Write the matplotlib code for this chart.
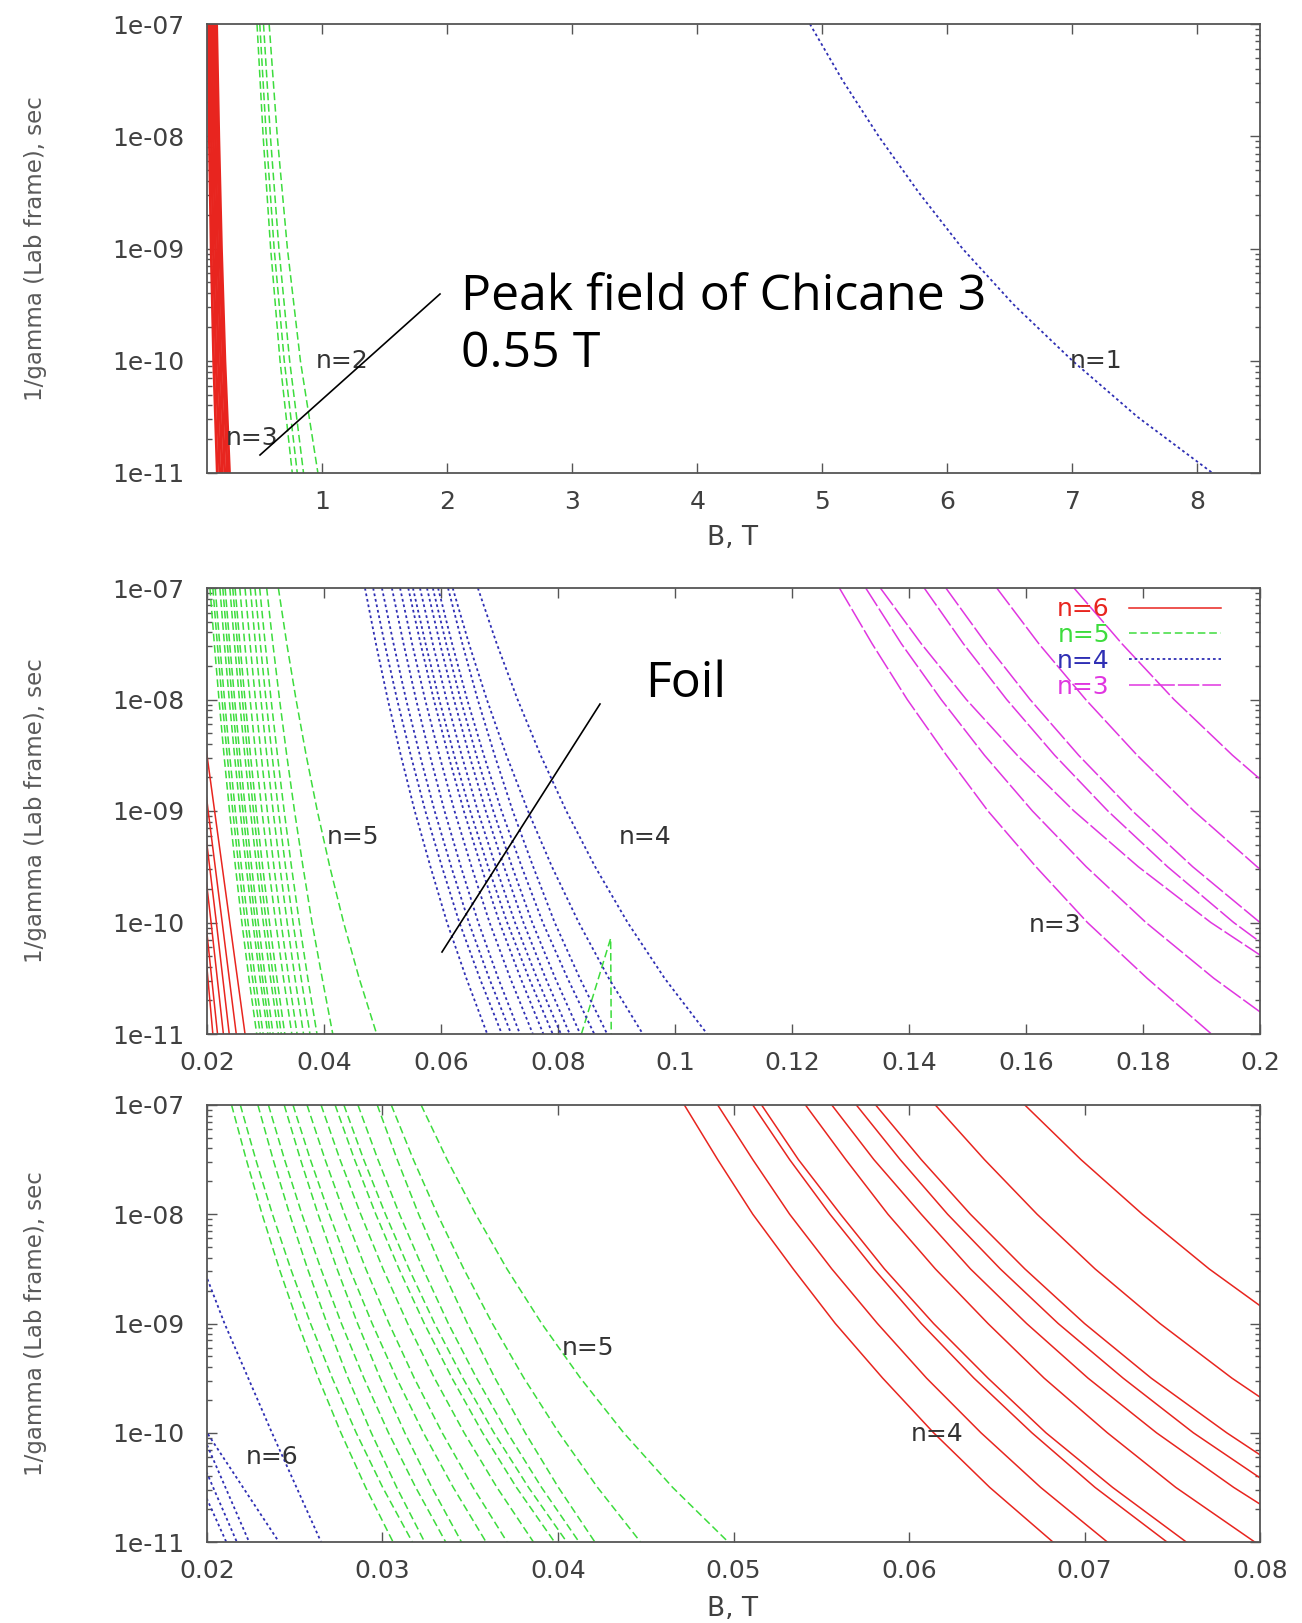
import matplotlib
matplotlib.use("Agg")
import matplotlib.pyplot as plt
from matplotlib.lines import Line2D
from matplotlib.ticker import LogLocator, NullFormatter

# Lifetime levels (sec) at which the field B (T) of each curve is listed
TAU5 = [1e-7, 1e-8, 1e-9, 1e-10, 1e-11]
TAU9 = [1e-7, 3.162e-8, 1e-8, 3.162e-9, 1e-9, 3.162e-10, 1e-10, 3.162e-11, 1e-11]
TAU_TICKS = [1e-11, 1e-10, 1e-9, 1e-8, 1e-7]
TAU_TICK_LABELS = ["1e-11", "1e-10", "1e-09", "1e-08", "1e-07"]

TOP_TICKS = [1, 2, 3, 4, 5, 6, 7, 8]
TOP_TICK_LABELS = ["1", "2", "3", "4", "5", "6", "7", "8"]
MID_TICKS = [0.02, 0.04, 0.06, 0.08, 0.10, 0.12, 0.14, 0.16, 0.18, 0.20]
MID_TICK_LABELS = ["0.02", "0.04", "0.06", "0.08", "0.1", "0.12", "0.14", "0.16", "0.18", "0.2"]
BOT_TICKS = [0.02, 0.03, 0.04, 0.05, 0.06, 0.07, 0.08]
BOT_TICK_LABELS = ["0.02", "0.03", "0.04", "0.05", "0.06", "0.07", "0.08"]

# ---- upper plot: n = 3, 2 (on TAU5) and n = 1 (on TAU9)
TOP_N3 = [
    [0.085, 0.0963, 0.1110, 0.1311, 0.160],
    [0.100, 0.1125, 0.1286, 0.1500, 0.180],
    [0.115, 0.1287, 0.1460, 0.1688, 0.200],
    [0.130, 0.1448, 0.1634, 0.1875, 0.220],
    [0.145, 0.1609, 0.1808, 0.2062, 0.240],
    [0.155, 0.1722, 0.1937, 0.2213, 0.258],
]
TOP_N2 = [
    [0.478, 0.527, 0.587, 0.662, 0.760],
    [0.500, 0.552, 0.615, 0.696, 0.800],
    [0.530, 0.585, 0.653, 0.739, 0.850],
    [0.575, 0.640, 0.721, 0.825, 0.965],
]
TOP_N1 = [
    [4.90, 5.16, 5.45, 5.77, 6.12, 6.53, 7.00, 7.52, 8.12],
]

# ---- middle plot: n = 6 (TAU5), n = 5, 4, 3 (TAU9)
MID_N6 = [
    [0.0161, 0.0187, 0.0213, 0.0239, 0.0265],
    [0.0155, 0.0179, 0.0202, 0.0226, 0.0250],
    [0.0149, 0.0171, 0.0193, 0.0216, 0.0238],
    [0.0142, 0.0163, 0.0185, 0.0207, 0.0228],
    [0.0138, 0.0158, 0.0178, 0.0198, 0.0218],
    [0.0143, 0.0160, 0.0177, 0.0193, 0.0210],
]
MID_N5 = [
    [0.0205, 0.02125, 0.02205, 0.02291, 0.02385, 0.02486, 0.02596, 0.02717, 0.0285],
    [0.0210, 0.02176, 0.02257, 0.02345, 0.02440, 0.02543, 0.02654, 0.02777, 0.0291],
    [0.0214, 0.02217, 0.02299, 0.02388, 0.02484, 0.02588, 0.02701, 0.02824, 0.0296],
    [0.0222, 0.02297, 0.02380, 0.02470, 0.02566, 0.02670, 0.02783, 0.02905, 0.0304],
    [0.0227, 0.02347, 0.02430, 0.02519, 0.02614, 0.02717, 0.02828, 0.02949, 0.0308],
    [0.0231, 0.02388, 0.02472, 0.02562, 0.02658, 0.02762, 0.02875, 0.02997, 0.0313],
    [0.0239, 0.02470, 0.02554, 0.02646, 0.02743, 0.02849, 0.02962, 0.03085, 0.0322],
    [0.0244, 0.02520, 0.02605, 0.02697, 0.02795, 0.02900, 0.03013, 0.03136, 0.0327],
    [0.0248, 0.02562, 0.02649, 0.02743, 0.02843, 0.02951, 0.03068, 0.03194, 0.0333],
    [0.0256, 0.02645, 0.02737, 0.02834, 0.02939, 0.03053, 0.03175, 0.03307, 0.0345],
    [0.0265, 0.02736, 0.02828, 0.02926, 0.03031, 0.03144, 0.03266, 0.03398, 0.0354],
    [0.0274, 0.02828, 0.02922, 0.03022, 0.03130, 0.03246, 0.03370, 0.03504, 0.0365],
    [0.0282, 0.02911, 0.03008, 0.03112, 0.03223, 0.03342, 0.03471, 0.03609, 0.0376],
    [0.0290, 0.02995, 0.03095, 0.03204, 0.03319, 0.03444, 0.03578, 0.03723, 0.0388],
    [0.0302, 0.03126, 0.03240, 0.03363, 0.03496, 0.03641, 0.03795, 0.03969, 0.0415],
    [0.0322, 0.03364, 0.03522, 0.03695, 0.03886, 0.04099, 0.04335, 0.04601, 0.0490],
]
MID_N5_KINK_B = [0.0840, 0.0890, 0.0891]
MID_N5_KINK_TAU = [1e-11, 7.2e-11, 1e-11]
MID_N4 = [
    [0.0470, 0.04888, 0.05090, 0.05313, 0.05551, 0.05820, 0.06103, 0.06433, 0.0679],
    [0.0484, 0.05037, 0.05249, 0.05483, 0.05732, 0.06016, 0.06314, 0.06663, 0.0704],
    [0.0499, 0.05189, 0.05403, 0.05639, 0.05891, 0.06175, 0.06477, 0.06823, 0.0720],
    [0.0516, 0.05360, 0.05573, 0.05809, 0.06060, 0.06340, 0.06637, 0.06978, 0.0735],
    [0.0530, 0.05506, 0.05728, 0.05971, 0.06231, 0.06522, 0.06830, 0.07184, 0.0757],
    [0.0544, 0.05651, 0.05876, 0.06125, 0.06390, 0.06686, 0.07001, 0.07361, 0.0775],
    [0.0552, 0.05737, 0.05969, 0.06225, 0.06499, 0.06805, 0.07131, 0.07504, 0.0791],
    [0.0564, 0.05859, 0.06095, 0.06353, 0.06629, 0.06937, 0.07265, 0.07641, 0.0805],
    [0.0576, 0.05983, 0.06221, 0.06484, 0.06765, 0.07077, 0.07409, 0.07789, 0.0820],
    [0.0586, 0.06089, 0.06335, 0.06605, 0.06894, 0.07216, 0.07559, 0.07953, 0.0838],
    [0.0595, 0.06190, 0.06447, 0.06732, 0.07035, 0.07379, 0.07740, 0.08163, 0.0862],
    [0.0612, 0.06365, 0.06627, 0.06917, 0.07226, 0.07576, 0.07943, 0.08373, 0.0884],
    [0.0620, 0.06478, 0.06783, 0.07118, 0.07487, 0.07897, 0.08354, 0.08868, 0.0945],
    [0.0663, 0.06953, 0.07309, 0.07703, 0.08142, 0.08635, 0.09190, 0.09822, 0.1055],
]
MID_N3 = [
    [0.1281, 0.1337, 0.1397, 0.1464, 0.1535, 0.1617, 0.1705, 0.1807, 0.1917],
    [0.1326, 0.1387, 0.1455, 0.1529, 0.1611, 0.1703, 0.1805, 0.1921, 0.2052],
    [0.1351, 0.1421, 0.1498, 0.1585, 0.1682, 0.1792, 0.1916, 0.2060, 0.2227],
    [0.1426, 0.1493, 0.1567, 0.1649, 0.1740, 0.1842, 0.1955, 0.2084, 0.2232],
    [0.1463, 0.1532, 0.1607, 0.1690, 0.1782, 0.1885, 0.2000, 0.2131, 0.2280],
    [0.1550, 0.1622, 0.1702, 0.1790, 0.1887, 0.1995, 0.2117, 0.2254, 0.2411],
    [0.1682, 0.1764, 0.1853, 0.1953, 0.2063, 0.2187, 0.2327, 0.2485, 0.2667],
]

# ---- lower plot: n = 6 (TAU5), n = 5, 4 (TAU9)
BOT_N6 = [
    [0.0165, 0.0186, 0.0210, 0.0237, 0.0265],
    [0.0120, 0.0145, 0.0172, 0.0200, 0.0241],
    [0.0110, 0.0137, 0.0165, 0.0197, 0.0224],
    [0.0105, 0.0130, 0.0158, 0.0190, 0.0217],
    [0.0100, 0.0125, 0.0150, 0.0183, 0.0211],
]
BOT_N5 = [
    [0.0214, 0.02224, 0.02314, 0.02412, 0.02519, 0.02635, 0.02763, 0.02904, 0.0306],
    [0.0219, 0.02278, 0.02373, 0.02477, 0.02590, 0.02714, 0.02850, 0.03001, 0.0317],
    [0.0229, 0.02377, 0.02471, 0.02573, 0.02684, 0.02804, 0.02936, 0.03081, 0.0324],
    [0.0235, 0.02442, 0.02541, 0.02649, 0.02766, 0.02894, 0.03034, 0.03189, 0.0336],
    [0.0244, 0.02533, 0.02633, 0.02741, 0.02858, 0.02987, 0.03127, 0.03281, 0.0345],
    [0.0249, 0.02589, 0.02697, 0.02813, 0.02941, 0.03080, 0.03233, 0.03403, 0.0359],
    [0.0257, 0.02673, 0.02784, 0.02905, 0.03037, 0.03181, 0.03340, 0.03516, 0.0371],
    [0.0265, 0.02758, 0.02876, 0.03003, 0.03143, 0.03296, 0.03465, 0.03652, 0.0386],
    [0.0273, 0.02841, 0.02962, 0.03094, 0.03238, 0.03396, 0.03570, 0.03763, 0.0398],
    [0.0278, 0.02893, 0.03017, 0.03151, 0.03297, 0.03458, 0.03635, 0.03832, 0.0405],
    [0.0286, 0.02974, 0.03097, 0.03231, 0.03375, 0.03536, 0.03712, 0.03906, 0.0412],
    [0.0297, 0.03084, 0.03206, 0.03339, 0.03484, 0.03641, 0.03813, 0.04002, 0.0421],
    [0.0305, 0.03176, 0.03313, 0.03463, 0.03626, 0.03806, 0.04005, 0.04225, 0.0447],
    [0.0322, 0.03368, 0.03531, 0.03709, 0.03907, 0.04128, 0.04374, 0.04653, 0.0497],
]
BOT_N4 = [
    [0.0472, 0.0491, 0.0511, 0.0534, 0.0558, 0.0585, 0.0614, 0.0646, 0.0682],
    [0.0491, 0.0511, 0.0532, 0.0556, 0.0582, 0.0610, 0.0641, 0.0675, 0.0713],
    [0.0511, 0.0532, 0.0555, 0.0580, 0.0607, 0.0637, 0.0670, 0.0706, 0.0747],
    [0.0516, 0.0537, 0.0561, 0.0586, 0.0614, 0.0645, 0.0678, 0.0716, 0.0758],
    [0.0541, 0.0564, 0.0588, 0.0615, 0.0645, 0.0677, 0.0713, 0.0752, 0.0797],
    [0.0556, 0.0580, 0.0607, 0.0635, 0.0667, 0.0702, 0.0741, 0.0785, 0.0834],
    [0.0570, 0.0595, 0.0622, 0.0652, 0.0685, 0.0722, 0.0762, 0.0808, 0.0859],
    [0.0581, 0.0607, 0.0635, 0.0666, 0.0700, 0.0738, 0.0781, 0.0828, 0.0882],
    [0.0615, 0.0643, 0.0673, 0.0706, 0.0743, 0.0784, 0.0830, 0.0881, 0.0939],
    [0.0666, 0.0698, 0.0733, 0.0771, 0.0814, 0.0862, 0.0916, 0.0978, 0.1047],
]

RED = "#e8251f"
GREEN = "#3ddc3d"
BLUE = "#2f2fb4"
MAGENTA = "#e036e0"
SOLID = "-"
DASHED = (0, (5, 2.5))
DOTTED = (0, (1.5, 1.6))
LONGDASH = (0, (14, 2))

TEXT_GRAY = "#404040"
FRAME_GRAY = "#555555"
GP_FONT = "DejaVu Sans"

W, H = 1302, 1623


def box(left, top, right, bottom):
    return [left / W, 1 - bottom / H, (right - left) / W, (bottom - top) / H]


def style_axes(ax, xlim, xticks, xlabels):
    ax.set_yscale("log")
    ax.set_xlim(*xlim)
    ax.set_ylim(1e-11, 1e-7)
    ax.set_yticks(TAU_TICKS)
    ax.set_yticklabels(TAU_TICK_LABELS)
    ax.yaxis.set_minor_locator(LogLocator(base=10, subs=range(2, 10)))
    ax.yaxis.set_minor_formatter(NullFormatter())
    ax.set_xticks(xticks)
    ax.set_xticklabels(xlabels)
    ax.tick_params(which="both", direction="in", top=True, right=True,
                   color=FRAME_GRAY, width=1.0)
    ax.tick_params(which="major", length=7)
    ax.tick_params(which="minor", length=3.5)
    ax.tick_params(axis="y", which="major", pad=16, labelsize=18,
                   labelcolor=TEXT_GRAY)
    ax.tick_params(axis="x", which="major", pad=12, labelsize=18,
                   labelcolor=TEXT_GRAY)
    for lab in ax.get_xticklabels() + ax.get_yticklabels():
        lab.set_fontfamily(GP_FONT)
    for sp in ax.spines.values():
        sp.set_color(FRAME_GRAY)
        sp.set_linewidth(1.3)


def draw_family(ax, curves, levels, color, ls, lw=1.1):
    handle = None
    for c in curves:
        (h,) = ax.plot(c, levels, color=color, linestyle=ls, linewidth=lw)
        handle = handle or h
    return handle


def tag(ax, x, y, s):
    ax.text(x, y, s, ha="left", va="center", fontsize=18,
            fontfamily=GP_FONT, color="#333333")


fig = plt.figure(figsize=(W / 100, H / 100), dpi=100)
fig.patch.set_facecolor("white")

ax_top = fig.add_axes(box(207, 24, 1260, 473))
ax_mid = fig.add_axes(box(207, 588, 1260, 1034))
ax_bot = fig.add_axes(box(207, 1105, 1260, 1542))

# upper plot
style_axes(ax_top, (0.078, 8.5), TOP_TICKS, TOP_TICK_LABELS)
draw_family(ax_top, TOP_N3, TAU5, RED, SOLID, lw=2.0)
draw_family(ax_top, TOP_N2, TAU5, GREEN, DASHED)
draw_family(ax_top, TOP_N1, TAU9, BLUE, DOTTED, lw=1.3)
tag(ax_top, 0.23, 10 ** -10.69, "n=3")
tag(ax_top, 0.95, 1e-10, "n=2")
tag(ax_top, 6.98, 1e-10, "n=1")

# middle plot
style_axes(ax_mid, (0.02, 0.2), MID_TICKS, MID_TICK_LABELS)
h6 = draw_family(ax_mid, MID_N6, TAU5, RED, SOLID)
h5 = draw_family(ax_mid, MID_N5, TAU9, GREEN, DASHED)
ax_mid.plot(MID_N5_KINK_B, MID_N5_KINK_TAU, color=GREEN, linestyle=DASHED,
            linewidth=1.1)
h4 = draw_family(ax_mid, MID_N4, TAU9, BLUE, DOTTED, lw=1.3)
h3 = draw_family(ax_mid, MID_N3, TAU9, MAGENTA, LONGDASH)
tag(ax_mid, 0.0404, 10 ** -9.23, "n=5")
tag(ax_mid, 0.0903, 10 ** -9.23, "n=4")
tag(ax_mid, 0.1604, 10 ** -10.02, "n=3")
ax_mid.legend([h6, h5, h4, h3], ["n=6", "n=5", "n=4", "n=3"],
              loc="upper right", bbox_to_anchor=(0.968, 0.99),
              borderaxespad=0, borderpad=0.2, frameon=False,
              markerfirst=False, labelcolor="linecolor", handlelength=3.7,
              handletextpad=0.76, labelspacing=0.07,
              prop={"family": GP_FONT, "size": 18})

# lower plot
style_axes(ax_bot, (0.02, 0.08), BOT_TICKS, BOT_TICK_LABELS)
draw_family(ax_bot, BOT_N6, TAU5, BLUE, DOTTED, lw=1.3)
draw_family(ax_bot, BOT_N5, TAU9, GREEN, DASHED)
draw_family(ax_bot, BOT_N4, TAU9, RED, SOLID)
tag(ax_bot, 0.0222, 10 ** -10.22, "n=6")
tag(ax_bot, 0.0402, 10 ** -9.22, "n=5")
tag(ax_bot, 0.0601, 10 ** -10.01, "n=4")

# axis titles
for yc in (248.5, 811, 1323.5):
    fig.text(36 / W, 1 - yc / H, "1/gamma (Lab frame), sec", rotation=90,
             ha="center", va="center", fontsize=16.5, fontfamily=GP_FONT,
             color="#5a5a5a")
for yc in (538, 1609):
    fig.text(733 / W, 1 - yc / H, "B, T", ha="center", va="center",
             fontsize=19, fontfamily=GP_FONT, color=TEXT_GRAY)

# call-outs
fig.add_artist(Line2D([260 / W, 440 / W], [1 - 455 / H, 1 - 294 / H],
                      color="black", linewidth=1.2))
fig.text(461 / W, 1 - 310 / H, "Peak field of Chicane 3", ha="left",
         va="baseline", fontsize=36, fontfamily="Open Sans", color="black")
fig.text(461 / W, 1 - 367 / H, "0.55 T", ha="left", va="baseline",
         fontsize=36, fontfamily="Open Sans", color="black")

fig.add_artist(Line2D([442 / W, 600 / W], [1 - 952 / H, 1 - 704 / H],
                      color="black", linewidth=1.2))
fig.text(645 / W, 1 - 697 / H, "Foil", ha="left", va="baseline",
         fontsize=36, fontfamily="Open Sans", color="black")

fig.savefig("out.png", dpi=100, facecolor="white")
